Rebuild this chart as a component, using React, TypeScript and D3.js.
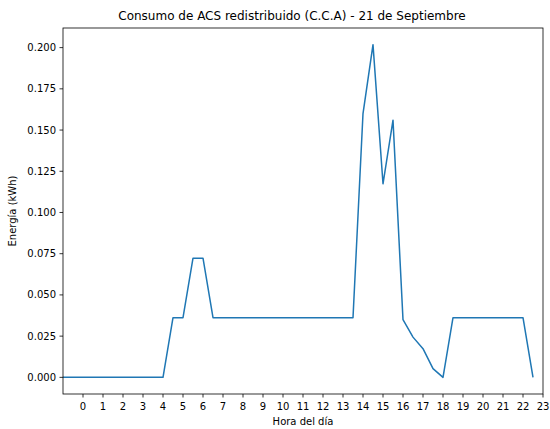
import React from "react";
import * as d3 from "d3";

const hours: number[] = [
  -1, -0.5, 0, 0.5, 1, 1.5, 2, 2.5, 3, 3.5, 4, 4.5, 5, 5.5, 6, 6.5, 7, 7.5, 8, 8.5,
  9, 9.5, 10, 10.5, 11, 11.5, 12, 12.5, 13, 13.5, 14, 14.5, 15, 15.5, 16, 16.5,
  17, 17.5, 18, 18.5, 19, 19.5, 20, 20.5, 21, 21.5, 22, 22.5,
];
const energy: number[] = [
  0, 0, 0, 0, 0, 0, 0, 0, 0, 0, 0, 0.0362, 0.0362, 0.0723, 0.0723, 0.0362,
  0.0362, 0.0362, 0.0362, 0.0362, 0.0362, 0.0362, 0.0362, 0.0362, 0.0362, 0.0362,
  0.0362, 0.0362, 0.0362, 0.0362, 0.16, 0.2018, 0.1174, 0.156, 0.035, 0.0244,
  0.0174, 0.0053, 0, 0.0362, 0.0362, 0.0362, 0.0362, 0.0362, 0.0362, 0.0362,
  0.0362, 0,
];
const xTicks: number[] = [0, 1, 2, 3, 4, 5, 6, 7, 8, 9, 10, 11, 12, 13, 14, 15, 16, 17, 18, 19, 20, 21, 22, 23];
const yTicks: number[] = [0, 0.025, 0.05, 0.075, 0.1, 0.125, 0.15, 0.175, 0.2];
const title = "Consumo de ACS redistribuido (C.C.A) - 21 de Septiembre";
const xLabel = "Hora del día";
const yLabel = "Energía (kWh)";

export default function App() {
  const W = 550, H = 429;
  const left = 63, right = 543, top = 28, bottom = 394;
  const x = d3.scaleLinear().domain([-1, 23]).range([left, right]);
  const y = d3.scaleLinear().domain([-0.0101, 0.2119]).range([bottom, top]);
  const pts: [number, number][] = hours.map((h, i) => [h, energy[i]]);
  const line = d3.line<[number, number]>().x(d => x(d[0])).y(d => y(d[1]));
  const font = "DejaVu Sans, sans-serif";
  return (
    <svg width={W} height={H} style={{ position: "absolute", left: 0, top: 0, background: "#fff" }} fontFamily={font}>
      <rect x={0} y={0} width={W} height={H} fill="#fff" />
      <path d={line(pts) || ""} fill="none" stroke="#1f77b4" strokeWidth={1.5} strokeLinejoin="round" />
      <rect x={left} y={top} width={right - left} height={bottom - top} fill="none" stroke="#000" strokeWidth={0.8} />
      {xTicks.map(t => (
        <g key={"x" + t}>
          <line x1={x(t)} x2={x(t)} y1={bottom} y2={bottom + 3.5} stroke="#000" strokeWidth={0.8} />
          <text x={x(t)} y={bottom + 16} fontSize={10} textAnchor="middle" fill="#000">{t}</text>
        </g>
      ))}
      {yTicks.map(t => (
        <g key={"y" + t}>
          <line x1={left - 3.5} x2={left} y1={y(t)} y2={y(t)} stroke="#000" strokeWidth={0.8} />
          <text x={left - 7} y={y(t)} dy="0.35em" fontSize={10} textAnchor="end" fill="#000">{t.toFixed(3)}</text>
        </g>
      ))}
      <text x={292} y={20} fontSize={12} textAnchor="middle" fill="#000">{title}</text>
      <text x={(left + right) / 2} y={425} fontSize={10} textAnchor="middle" fill="#000">{xLabel}</text>
      <text transform={`translate(16,${(top + bottom) / 2}) rotate(-90)`} fontSize={10} textAnchor="middle" fill="#000">{yLabel}</text>
    </svg>
  );
}
